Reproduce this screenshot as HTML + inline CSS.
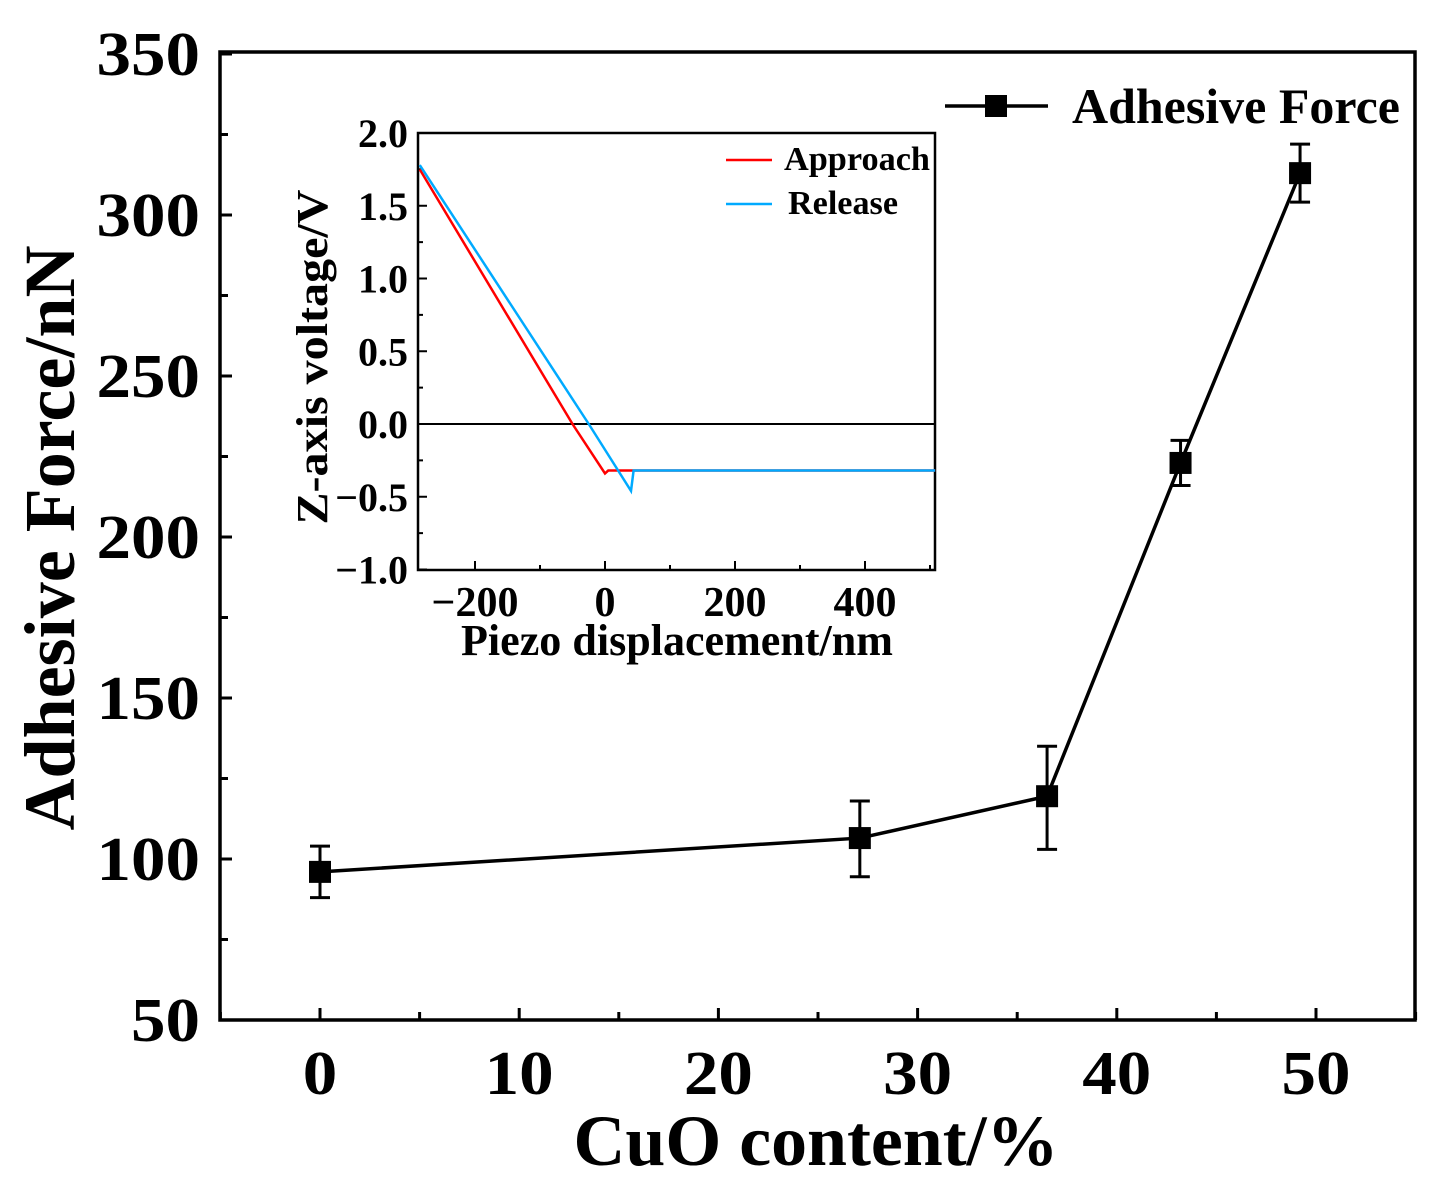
<!DOCTYPE html>
<html><head><meta charset="utf-8"><style>
body{margin:0;background:#fff}
text{font-family:"Liberation Serif",serif;font-weight:bold;fill:#000}
</style></head><body>
<svg id="c" width="1446" height="1196" xmlns="http://www.w3.org/2000/svg"></svg>
<script>
const cuo=[0,27.1,36.5,43.2,49.2];
const force=[96,106.5,119.5,223,313];
const errLow=[88,94.5,103,216,304];
const errHigh=[104,118,135,230,322];
const yTicks=[50,100,150,200,250,300,350];
const xTicks=[0,10,20,30,40,50];
const appX=[-285,-50,0,5,508];
const appY=[1.75,0,-0.34,-0.32,-0.32];
const relX=[-285,-25,40,44,508];
const relY=[1.78,0,-0.46,-0.32,-0.32];
const inXTicks=[-200,0,200,400];
const inYTicks=[-1.0,-0.5,0.0,0.5,1.0,1.5,2.0];

const svg=document.getElementById('c');
const NS='http://www.w3.org/2000/svg';
function el(t,a,p){const e=document.createElementNS(NS,t);for(const k in a)e.setAttribute(k,a[k]);(p||svg).appendChild(e);return e;}
const X=v=>320+v*19.92, Y=v=>1020-(v-50)*3.22;
const IX=v=>605+v*0.65, IY=v=>424-v*145.5;

let f=el('rect',{x:220,y:52,width:1195,height:968,fill:'none',stroke:'#000','stroke-width':3.5});


yTicks.forEach((v,i)=>{
  let t=el('line',{x1:220,x2:232,y1:Y(v),y2:Y(v),stroke:'#000','stroke-width':3});
  
  
  if(i<yTicks.length-1){let m=el('line',{x1:220,x2:228,y1:Y(v+25),y2:Y(v+25),stroke:'#000','stroke-width':3});
  
  }
  let l=el('text',{x:200,y:Y(v)+21,'font-size':62,'text-anchor':'end',textLength:String(v).length*34.5,lengthAdjust:'spacingAndGlyphs'});l.textContent=v;
  
  
});
for(let v=-5;v<=55;v+=5){
  const major=v%10===0;
  let t=el('line',{x1:X(v),x2:X(v),y1:1020,y2:major?1008:1012,stroke:'#000','stroke-width':3});
  
  
}
xTicks.forEach(v=>{
  let l=el('text',{x:X(v),y:1094,'font-size':62,'text-anchor':'middle',textLength:String(v).length*34.5,lengthAdjust:'spacingAndGlyphs'});l.textContent=v;
  
  
});
let xt=el('text',{x:816,y:1165,'font-size':72,'text-anchor':'middle',textLength:485,lengthAdjust:'spacingAndGlyphs'});xt.textContent='CuO content/%';


let yt=el('text',{x:0,y:0,'font-size':72,'text-anchor':'middle',textLength:585,lengthAdjust:'spacingAndGlyphs',transform:'translate(74,538) rotate(-90)'});yt.textContent='Adhesive Force/nN';



let pl=el('polyline',{points:cuo.map((c,i)=>X(c)+','+Y(force[i])).join(' '),fill:'none',stroke:'#000','stroke-width':3.5});


cuo.forEach((c,i)=>{
  const g=el('g',{});
  
  
  el('line',{x1:X(c),x2:X(c),y1:Y(errLow[i]),y2:Y(errHigh[i]),stroke:'#000','stroke-width':3},g);
  el('line',{x1:X(c)-10,x2:X(c)+10,y1:Y(errLow[i]),y2:Y(errLow[i]),stroke:'#000','stroke-width':3},g);
  el('line',{x1:X(c)-10,x2:X(c)+10,y1:Y(errHigh[i]),y2:Y(errHigh[i]),stroke:'#000','stroke-width':3},g);
  el('rect',{x:X(c)-11,y:Y(force[i])-11,width:22,height:22,fill:'#000'},g);
});
const lg=el('g',{});


el('line',{x1:945,x2:1048,y1:106,y2:106,stroke:'#000','stroke-width':3.5},lg);
el('rect',{x:985,y:95,width:22,height:22,fill:'#000'},lg);
let lt=el('text',{x:1072,y:123,'font-size':50,textLength:328,lengthAdjust:'spacingAndGlyphs'},lg);lt.textContent='Adhesive Force';

let inf=el('rect',{x:418,y:133,width:517,height:437,fill:'#fff',stroke:'#000','stroke-width':2.5});


inYTicks.forEach((v,i)=>{
  let t=el('line',{x1:418,x2:427,y1:IY(v),y2:IY(v),stroke:'#000','stroke-width':2});
  
  
  if(i<inYTicks.length-1){let m=el('line',{x1:418,x2:423,y1:IY(v+0.25),y2:IY(v+0.25),stroke:'#000','stroke-width':2});
  
  }
  let l=el('text',{x:408,y:IY(v)+14,'font-size':40,'text-anchor':'end'});l.textContent=v.toFixed(1).replace('-','\u2212');
  
  
});
for(let v=-200;v<=500;v+=100){
  const major=v%200===0;
  let t=el('line',{x1:IX(v),x2:IX(v),y1:570,y2:major?561:565,stroke:'#000','stroke-width':2});
  
  
}
inXTicks.forEach(v=>{
  let l=el('text',{x:IX(v),y:616,'font-size':42,'text-anchor':'middle'});l.textContent=String(v).replace('-','\u2212');
  
  
});
let ixt=el('text',{x:677,y:655,'font-size':44,'text-anchor':'middle',textLength:432,lengthAdjust:'spacingAndGlyphs'});ixt.textContent='Piezo displacement/nm';


let iyt=el('text',{x:0,y:0,'font-size':44,'text-anchor':'middle',textLength:335,lengthAdjust:'spacingAndGlyphs',transform:'translate(327,357) rotate(-90)'});iyt.textContent='Z-axis voltage/V';


let zl=el('line',{x1:418,x2:935,y1:IY(0),y2:IY(0),stroke:'#000','stroke-width':2});


let ap=el('polyline',{points:appX.map((x,i)=>IX(x)+','+IY(appY[i])).join(' '),fill:'none',stroke:'#ff0000','stroke-width':2.5});


let rl=el('polyline',{points:relX.map((x,i)=>IX(x)+','+IY(relY[i])).join(' '),fill:'none',stroke:'#00aaff','stroke-width':2.5});


const il1=el('g',{});


el('line',{x1:726,x2:772,y1:160,y2:160,stroke:'#ff0000','stroke-width':2.5},il1);
let a1=el('text',{x:784,y:170,'font-size':34,textLength:146,lengthAdjust:'spacingAndGlyphs'},il1);a1.textContent='Approach';
const il2=el('g',{});


el('line',{x1:726,x2:772,y1:204,y2:204,stroke:'#00aaff','stroke-width':2.5},il2);
let a2=el('text',{x:788,y:214,'font-size':34,textLength:110,lengthAdjust:'spacingAndGlyphs'},il2);a2.textContent='Release';
</script>
</body></html>
